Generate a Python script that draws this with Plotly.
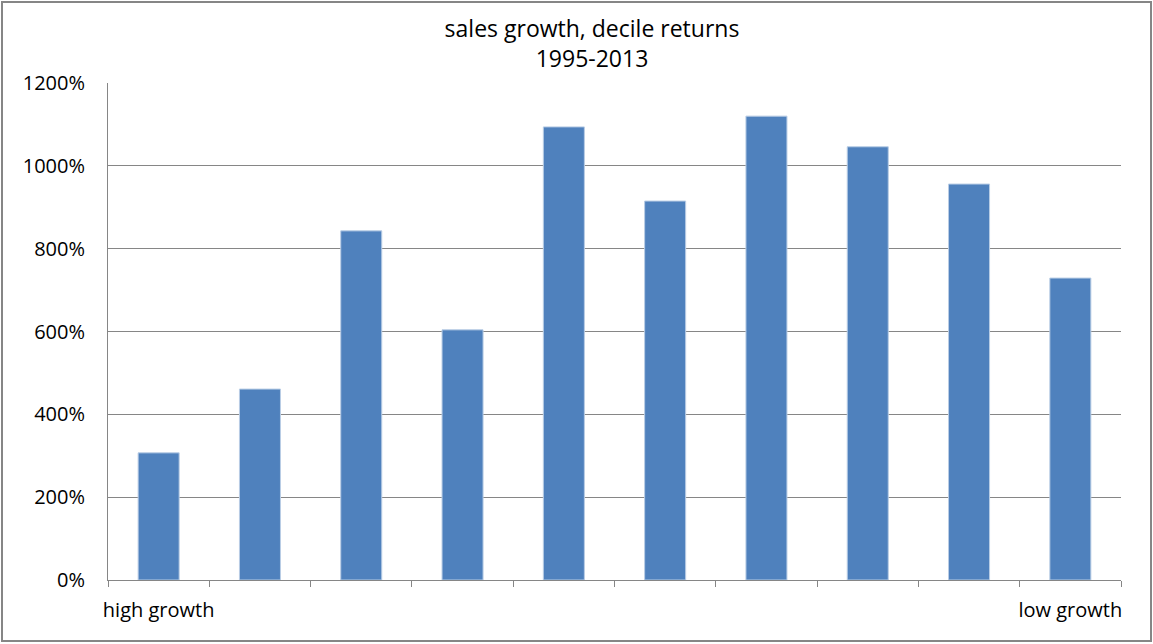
import plotly.graph_objects as go

deciles = ["1", "2", "3", "4", "5", "6", "7", "8", "9", "10"]
tick_labels = ["high growth", "", "", "", "", "", "", "", "", "low growth"]
returns_pct = [307, 461, 843, 604, 1094, 915, 1120, 1046, 956, 729]
y_ticks = [0, 200, 400, 600, 800, 1000, 1200]
y_tick_text = [f"{v}%" for v in y_ticks]

W, H = 1153, 644
L, R, T, B = 108, 32, 83, 64
pw, ph = W - L - R, H - T - B

def px(x):
    return (x - L) / pw

def py(y):
    return (H - B - y) / ph

fig = go.Figure(go.Bar(
    x=deciles, y=returns_pct,
    marker=dict(color="#4F81BD", line=dict(color="#B9CDE5", width=1)),
    width=0.405,
    hoverinfo="skip",
))

fig.update_layout(
    width=W, height=H,
    margin=dict(l=L, r=R, t=T, b=B, pad=0),
    paper_bgcolor="white", plot_bgcolor="white",
    font=dict(family="Open Sans, Liberation Sans, sans-serif", size=20, color="black"),
    showlegend=False,
    title=dict(
        text="sales growth, decile returns<br>1995-2013",
        x=px(592), xref="paper", xanchor="center",
        y=1 - 37 / H, yref="container", yanchor="middle",
        font=dict(size=23),
    ),
    xaxis=dict(
        type="category", automargin=False, tickangle=0,
        tickmode="array", tickvals=deciles, ticktext=tick_labels,
        showgrid=False, showline=True, linecolor="#868686", linewidth=1,
        ticks="outside", tickson="boundaries", ticklen=6, tickcolor="#868686",
        zeroline=False, tickfont=dict(size=20),
        ticklabelstandoff=12,
    ),
    yaxis=dict(
        automargin=False,
        tickmode="array", tickvals=y_ticks, ticktext=y_tick_text,
        range=[0, 1200],
        showgrid=True, gridcolor="#868686", gridwidth=1,
        showline=True, linecolor="#868686", linewidth=1,
        zeroline=False, ticks="", tickfont=dict(size=20),
        ticklabelstandoff=18,
    ),
    shapes=[dict(
        type="rect", xref="paper", yref="paper",
        x0=px(2), x1=px(1151), y0=py(641), y1=py(2),
        line=dict(color="#868686", width=2), fillcolor="rgba(0,0,0,0)",
        layer="above",
    )],
)

fig.write_html("out.html")
